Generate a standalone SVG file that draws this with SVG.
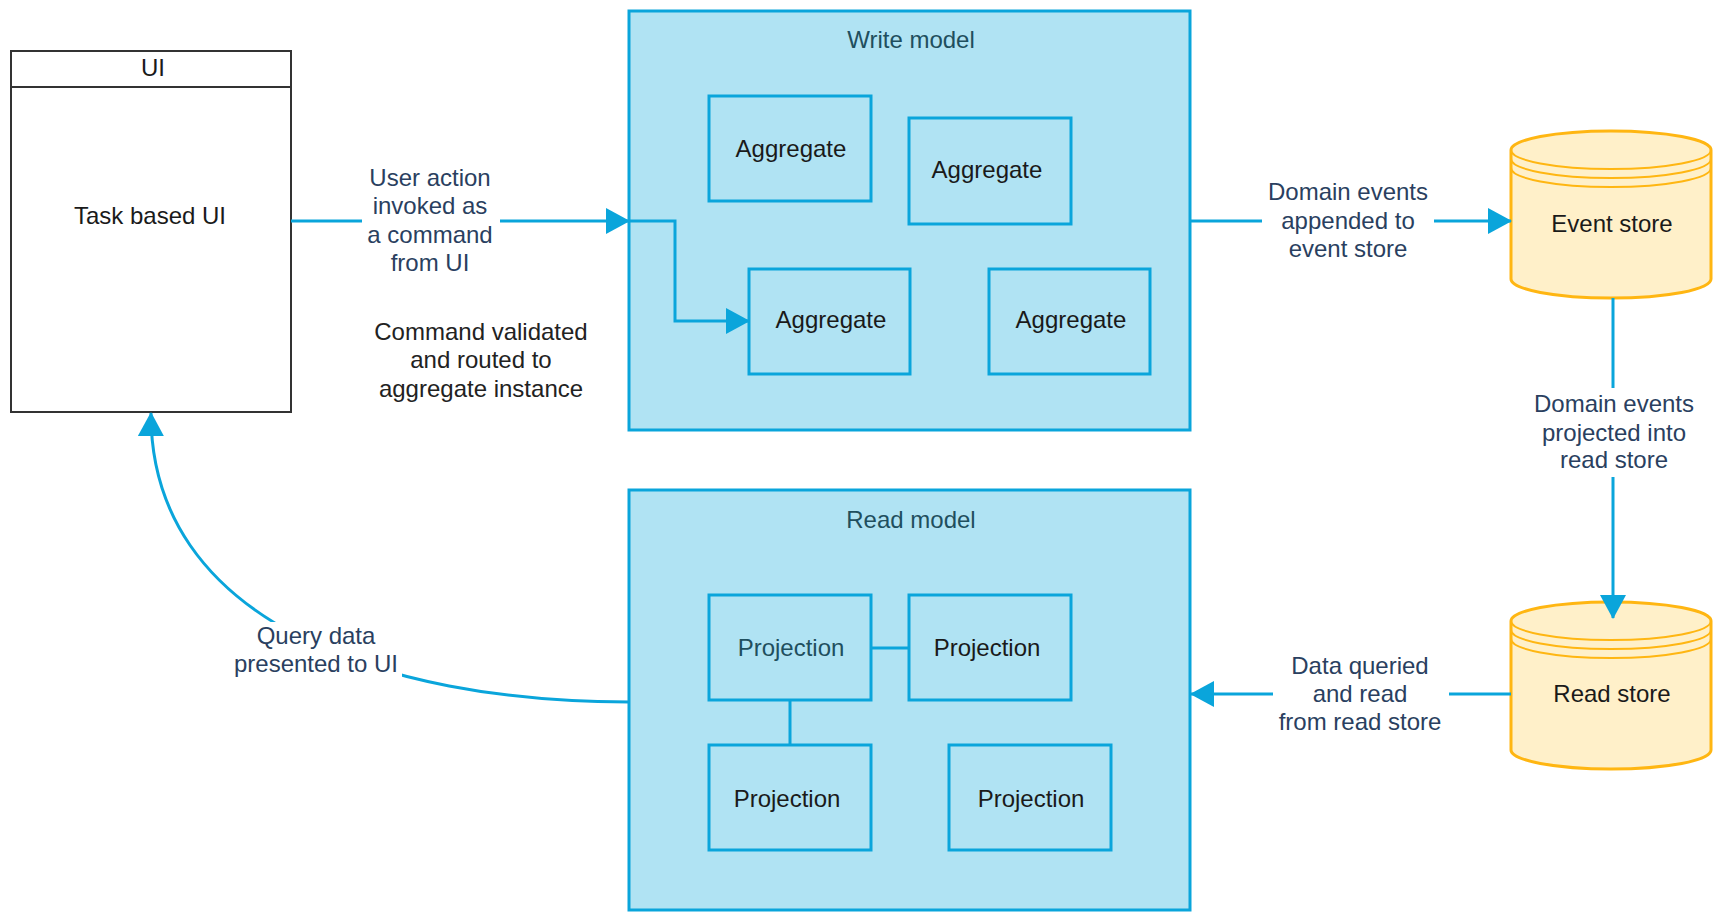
<svg xmlns="http://www.w3.org/2000/svg" width="1713" height="912" viewBox="0 0 1713 912">
  <style>
    text { font-family: "Liberation Sans", Arial, sans-serif; font-size: 24px; text-anchor: middle; }
    .node-text { fill: #1a1a1a; }
    .title { fill: #1f4f5e; }
    .label { fill: #2a3f60; }
    .note { fill: #222222; }
    .ui { fill: #ffffff; stroke: #333333; stroke-width: 2; }
    .model { fill: #b0e3f3; stroke: #0aa5db; stroke-width: 3; }
    .inner { fill: #b0e3f3; stroke: #0aa5db; stroke-width: 3; }
    .store { fill: #fff0c9; stroke: #ffb612; stroke-width: 3; }
    .store-line { fill: none; stroke: #ffb612; stroke-width: 2; }
    .edge { fill: none; stroke: #0aa5db; stroke-width: 3; }
    .label-bg { fill: #ffffff; }
  </style>
  <defs>
    <marker id="arrow" viewBox="0 0 24 26" refX="23" refY="13" markerWidth="24" markerHeight="26" markerUnits="userSpaceOnUse" orient="auto">
      <path d="M0,0 L24,13 L0,26 Z" fill="#0aa5db"/>
    </marker>
  </defs>

  <rect width="1713" height="912" fill="#ffffff"/>

  <!-- UI swimlane -->
  <g id="ui">
    <rect class="ui" x="11" y="51" width="280" height="361"/>
    <line x1="11" y1="87" x2="291" y2="87" stroke="#333333" stroke-width="2"/>
    <text class="node-text" x="153" y="76">UI</text>
    <text class="node-text" x="150" y="224">Task based UI</text>
  </g>

  <!-- Write side -->
  <g id="write-model">
    <rect class="model" x="629" y="11" width="561" height="419"/>
    <text class="title" x="911" y="48">Write model</text>
  </g>
  <g id="aggregate-1">
    <rect class="inner" x="709" y="96" width="162" height="105"/>
    <text class="node-text" x="791" y="157">Aggregate</text>
  </g>
  <g id="aggregate-2">
    <rect class="inner" x="909" y="118" width="162" height="106"/>
    <text class="node-text" x="987" y="178">Aggregate</text>
  </g>
  <g id="aggregate-3">
    <rect class="inner" x="749" y="269" width="161" height="105"/>
    <text class="node-text" x="831" y="328">Aggregate</text>
  </g>
  <g id="aggregate-4">
    <rect class="inner" x="989" y="269" width="161" height="105"/>
    <text class="node-text" x="1071" y="328">Aggregate</text>
  </g>

  <!-- Read side -->
  <g id="read-model">
    <rect class="model" x="629" y="490" width="561" height="420"/>
    <text class="title" x="911" y="528">Read model</text>
  </g>
  <g id="projection-1">
    <rect class="inner" x="709" y="595" width="162" height="105"/>
    <text class="title" x="791" y="656">Projection</text>
  </g>
  <g id="projection-2">
    <rect class="inner" x="909" y="595" width="162" height="105"/>
    <text class="node-text" x="987" y="656">Projection</text>
  </g>
  <g id="projection-3">
    <rect class="inner" x="709" y="745" width="162" height="105"/>
    <text class="node-text" x="787" y="807">Projection</text>
  </g>
  <g id="projection-4">
    <rect class="inner" x="949" y="745" width="162" height="105"/>
    <text class="node-text" x="1031" y="807">Projection</text>
  </g>

  <!-- Stores -->
  <g id="event-store">
    <path class="store" d="M1511,150 A100,19 0 0 1 1711,150 L1711,279 A100,19 0 0 1 1511,279 Z"/>
    <path class="store-line" d="M1511,150 A100,19 0 0 0 1711,150 M1511,159 A100,19 0 0 0 1711,159 M1511,168 A100,19 0 0 0 1711,168"/>
    <text class="node-text" x="1612" y="232">Event store</text>
  </g>
  <g id="read-store">
    <path class="store" d="M1511,621 A100,19 0 0 1 1711,621 L1711,750 A100,19 0 0 1 1511,750 Z"/>
    <path class="store-line" d="M1511,621 A100,19 0 0 0 1711,621 M1511,630 A100,19 0 0 0 1711,630 M1511,639 A100,19 0 0 0 1711,639"/>
    <text class="node-text" x="1612" y="702">Read store</text>
  </g>

  <!-- Free-standing note -->
  <g id="routing-note">
    <text class="note" x="481" y="340">Command validated</text>
    <text class="note" x="481" y="368">and routed to</text>
    <text class="note" x="481" y="397">aggregate instance</text>
  </g>

  <!-- Connectors -->
  <g id="connectors">
    <!-- UI to write model -->
    <path class="edge" d="M291,221 L629,221" marker-end="url(#arrow)"/>
    <rect class="label-bg" x="362" y="163" width="138" height="116"/>
    <text class="label" x="430" y="186">User action</text>
    <text class="label" x="430" y="214">invoked as</text>
    <text class="label" x="430" y="243">a command</text>
    <text class="label" x="430" y="271">from UI</text>

    <!-- routed to aggregate -->
    <path class="edge" d="M629,221 L675,221 L675,321 L749,321" marker-end="url(#arrow)"/>

    <!-- write model to event store -->
    <path class="edge" d="M1190,221 L1511,221" marker-end="url(#arrow)"/>
    <rect class="label-bg" x="1262" y="176" width="172" height="88"/>
    <text class="label" x="1348" y="200">Domain events</text>
    <text class="label" x="1348" y="229">appended to</text>
    <text class="label" x="1348" y="257">event store</text>

    <!-- event store to read store -->
    <path class="edge" d="M1613,298 L1613,618" marker-end="url(#arrow)"/>
    <rect class="label-bg" x="1530" y="388" width="168" height="89"/>
    <text class="label" x="1614" y="412">Domain events</text>
    <text class="label" x="1614" y="441">projected into</text>
    <text class="label" x="1614" y="468">read store</text>

    <!-- read store to read model -->
    <path class="edge" d="M1511,694 L1191,694" marker-end="url(#arrow)"/>
    <rect class="label-bg" x="1273" y="650" width="176" height="88"/>
    <text class="label" x="1360" y="674">Data queried</text>
    <text class="label" x="1360" y="702">and read</text>
    <text class="label" x="1360" y="730">from read store</text>

    <!-- projections linked -->
    <path class="edge" d="M871,648 L909,648"/>
    <path class="edge" d="M790,700 L790,745"/>

    <!-- read model back to UI -->
    <path class="edge" d="M629,702 C380,702 150,620 151,413" marker-end="url(#arrow)"/>
    <rect class="label-bg" x="230" y="622" width="172" height="56"/>
    <text class="label" x="316" y="644">Query data</text>
    <text class="label" x="316" y="672">presented to UI</text>
  </g>
</svg>
